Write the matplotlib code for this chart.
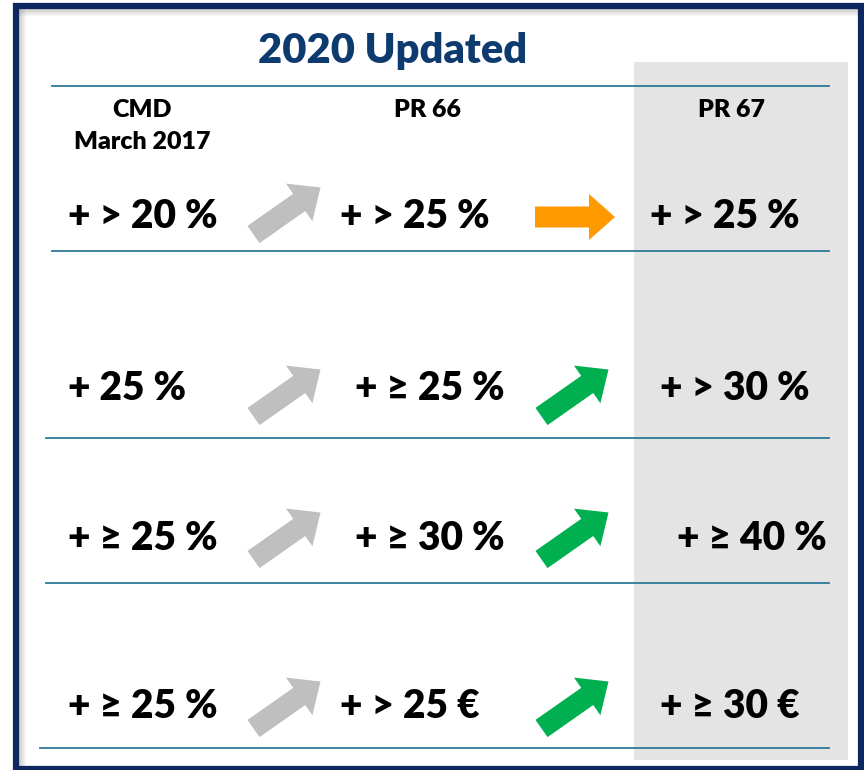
import matplotlib
matplotlib.use("Agg")
from matplotlib import pyplot as plt
from matplotlib.patches import Rectangle, FancyArrow
import numpy as np

plt.rcParams['font.family'] = ['Lato', 'DejaVu Sans']

title = "2020 Updated"
headers = ["CMD", "March 2017", "PR 66", "PR 67"]

col_cmd = ["+ > 20 %", "+ 25 %", "+ \u2265 25 %", "+ \u2265 25 %"]
col_pr66 = ["+ > 25 %", "+ \u2265 25 %", "+ \u2265 30 %", "+ > 25 \u20ac"]
col_pr67 = ["+ > 25 %", "+ > 30 %", "+ \u2265 40 %", "+ \u2265 30 \u20ac"]

# trend PR66 -> PR67 per row ("flat" or "up"); CMD -> PR66 always up
trend_67 = ["flat", "up", "up", "up"]

# layout in pixels (figure is 864 x 770)
W, H = 864, 770
text_y = [217, 388, 538, 707]
arrow_y = [211, 393, 536, 705]
x_cmd = [68, 68, 68, 68]
x_66 = [340, 355, 355, 340]
x_67 = [650, 660, 677, 660]
line_y = [86, 251, 438, 583, 748]
line_x0 = [52, 52, 46, 46, 40]
line_x1 = 829

navy = "#0D2860"
title_col = "#0E3B6F"
line_col = "#2C7898"
grey_arrow = "#BFBFBF"
green = "#00B050"
orange = "#FF9900"
shade = "#E4E4E4"

fig = plt.figure(figsize=(8.64, 7.70), dpi=100)
ax = fig.add_axes([0, 0, 1, 1])
ax.set_xlim(0, W)
ax.set_ylim(H, 0)
ax.axis('off')

# shaded PR 67 column
ax.add_patch(Rectangle((634, 62), 214, 698, facecolor=shade, edgecolor='none', zorder=0))

# inner shadow along the frame
for i in range(7):
    a = 0.35 * (1 - i / 7)
    ax.plot([19 + i, 19 + i], [9, 766], color='#808080', alpha=a, lw=0.8, zorder=1)
    ax.plot([19, 858], [9 + i, 9 + i], color='#808080', alpha=a, lw=0.8, zorder=1)

# frame
ax.add_patch(Rectangle((16, 6), 845, 763, facecolor='none', edgecolor=navy, lw=4.5, zorder=5))

# separator lines
for y, x0 in zip(line_y, line_x0):
    ax.plot([x0, line_x1], [y, y], color=line_col, lw=1.3, zorder=2)

ax.text(393, 51, title, ha='center', va='center', fontsize=30, fontweight='heavy', color=title_col)

hdr = dict(ha='center', va='center', fontsize=18, fontweight='heavy', color='black')
ax.text(142, 110, headers[0], **hdr)
ax.text(142, 142, headers[1], **hdr)
ax.text(428, 110, headers[2], **hdr)
ax.text(731, 110, headers[3], **hdr)

for i in range(4):
    for xs, col in ((x_cmd, col_cmd), (x_66, col_pr66), (x_67, col_pr67)):
        ax.text(xs[i], text_y[i], col[i], ha='left', va='center', fontsize=28,
                fontweight='heavy', color='black', zorder=4)

def arrow(cx, cy, direction, color):
    if direction == "up":
        dx, dy = 67, -47
    else:
        dx, dy = 80, 0
    ax.add_patch(FancyArrow(cx - dx / 2, cy - dy / 2, dx, dy, width=21, head_width=46,
                            head_length=26, length_includes_head=True,
                            facecolor=color, edgecolor='none', zorder=3))

for i in range(4):
    arrow(287, arrow_y[i], "up", grey_arrow)
    arrow(575, arrow_y[i] + (6 if trend_67[i] == "flat" else 0), trend_67[i],
          orange if trend_67[i] == "flat" else green)

fig.savefig("out.png", dpi=100)
